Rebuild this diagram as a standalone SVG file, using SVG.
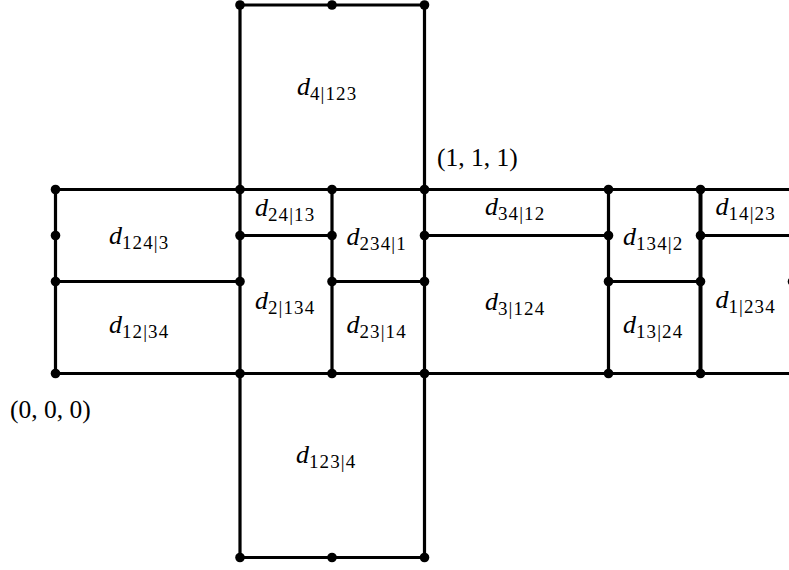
<svg xmlns="http://www.w3.org/2000/svg" width="789" height="570" viewBox="0 0 789 570">
<style>
.e{stroke:#000;stroke-width:3.2;fill:none;stroke-linecap:butt}
.dot{fill:#000}
.lbl{font-family:"Liberation Serif","DejaVu Serif",serif;fill:#000}
.d{font-style:italic;font-size:26px}
.s{font-size:19px;letter-spacing:1.1px}
.pt{font-family:"Liberation Serif","DejaVu Serif",serif;font-size:25.5px;fill:#000}
</style>
<rect width="789" height="570" fill="#fff"/>
<g id="connectors">
<path class="e" d="M240,189.5 V5 H424.5 V189.5"/>
<path class="e" d="M240,373.5 V557.5 H424.5 V373.5"/>
<path class="e" d="M55.5,189.5 H789 M55.5,373.5 H789"/>
<path class="e" d="M55.5,189.5 V373.5 M240,189.5 V373.5 M332,189.5 V373.5 M424.5,189.5 V373.5 M608.5,189.5 V373.5"/>
<path class="e" style="stroke-width:4" d="M700.5,189.5 V373.5"/>
<path class="e" d="M55.5,281.5 H240 M240,235.5 H332 M332,281.5 H424.5 M424.5,235.5 H608.5 M608.5,281.5 H700.5 M700.5,235.5 H789"/>
</g>
<g id="vertices">
<circle class="dot" cx="240" cy="5" r="4.8"/>
<circle class="dot" cx="332" cy="5" r="4.8"/>
<circle class="dot" cx="424.5" cy="5" r="4.8"/>
<circle class="dot" cx="240" cy="557.5" r="4.8"/>
<circle class="dot" cx="332" cy="557.5" r="4.8"/>
<circle class="dot" cx="424.5" cy="557.5" r="4.8"/>
<circle class="dot" cx="55.5" cy="189.5" r="4.8"/>
<circle class="dot" cx="55.5" cy="235.5" r="4.8"/>
<circle class="dot" cx="55.5" cy="281.5" r="4.8"/>
<circle class="dot" cx="55.5" cy="373.5" r="4.8"/>
<circle class="dot" cx="240" cy="189.5" r="4.8"/>
<circle class="dot" cx="240" cy="235.5" r="4.8"/>
<circle class="dot" cx="240" cy="281.5" r="4.8"/>
<circle class="dot" cx="240" cy="373.5" r="4.8"/>
<circle class="dot" cx="332" cy="189.5" r="4.8"/>
<circle class="dot" cx="332" cy="235.5" r="4.8"/>
<circle class="dot" cx="332" cy="281.5" r="4.8"/>
<circle class="dot" cx="332" cy="373.5" r="4.8"/>
<circle class="dot" cx="424.5" cy="189.5" r="4.8"/>
<circle class="dot" cx="424.5" cy="235.5" r="4.8"/>
<circle class="dot" cx="424.5" cy="281.5" r="4.8"/>
<circle class="dot" cx="424.5" cy="373.5" r="4.8"/>
<circle class="dot" cx="608.5" cy="189.5" r="4.8"/>
<circle class="dot" cx="608.5" cy="235.5" r="4.8"/>
<circle class="dot" cx="608.5" cy="281.5" r="4.8"/>
<circle class="dot" cx="608.5" cy="373.5" r="4.8"/>
<circle class="dot" cx="700.5" cy="189.5" r="4.8"/>
<circle class="dot" cx="700.5" cy="235.5" r="4.8"/>
<circle class="dot" cx="700.5" cy="281.5" r="4.8"/>
<circle class="dot" cx="700.5" cy="373.5" r="4.8"/>
<circle class="dot" cx="793.5" cy="189.5" r="4.8"/>
<circle class="dot" cx="793.5" cy="235.5" r="4.8"/>
<circle class="dot" cx="792.5" cy="281.5" r="4.8"/>
<circle class="dot" cx="793.5" cy="373.5" r="4.8"/>
</g>
<g id="n-4-123"><text class="lbl" x="297" y="95"><tspan class="d">d</tspan><tspan class="s" dy="5">4|123</tspan></text></g>
<g id="n-124-3"><text class="lbl" x="109" y="244"><tspan class="d">d</tspan><tspan class="s" dy="5">124|3</tspan></text></g>
<g id="n-12-34"><text class="lbl" x="109" y="333"><tspan class="d">d</tspan><tspan class="s" dy="5">12|34</tspan></text></g>
<g id="n-24-13"><text class="lbl" x="255" y="216"><tspan class="d">d</tspan><tspan class="s" dy="5">24|13</tspan></text></g>
<g id="n-2-134"><text class="lbl" x="255" y="309"><tspan class="d">d</tspan><tspan class="s" dy="5">2|134</tspan></text></g>
<g id="n-234-1"><text class="lbl" x="346.5" y="245"><tspan class="d">d</tspan><tspan class="s" dy="5">234|1</tspan></text></g>
<g id="n-23-14"><text class="lbl" x="346.5" y="333"><tspan class="d">d</tspan><tspan class="s" dy="5">23|14</tspan></text></g>
<g id="n-34-12"><text class="lbl" x="485" y="215"><tspan class="d">d</tspan><tspan class="s" dy="5">34|12</tspan></text></g>
<g id="n-3-124"><text class="lbl" x="485" y="310"><tspan class="d">d</tspan><tspan class="s" dy="5">3|124</tspan></text></g>
<g id="n-134-2"><text class="lbl" x="623" y="245"><tspan class="d">d</tspan><tspan class="s" dy="5">134|2</tspan></text></g>
<g id="n-13-24"><text class="lbl" x="623" y="333"><tspan class="d">d</tspan><tspan class="s" dy="5">13|24</tspan></text></g>
<g id="n-14-23"><text class="lbl" x="715.5" y="215"><tspan class="d">d</tspan><tspan class="s" dy="5">14|23</tspan></text></g>
<g id="n-1-234"><text class="lbl" x="715.5" y="308"><tspan class="d">d</tspan><tspan class="s" dy="5">1|234</tspan></text></g>
<g id="n-123-4"><text class="lbl" x="296" y="463"><tspan class="d">d</tspan><tspan class="s" dy="5">123|4</tspan></text></g>
<g id="p111"><text class="pt" x="437" y="166">(1, 1, 1)</text></g>
<g id="p000"><text class="pt" x="10" y="418">(0, 0, 0)</text></g>
</svg>
